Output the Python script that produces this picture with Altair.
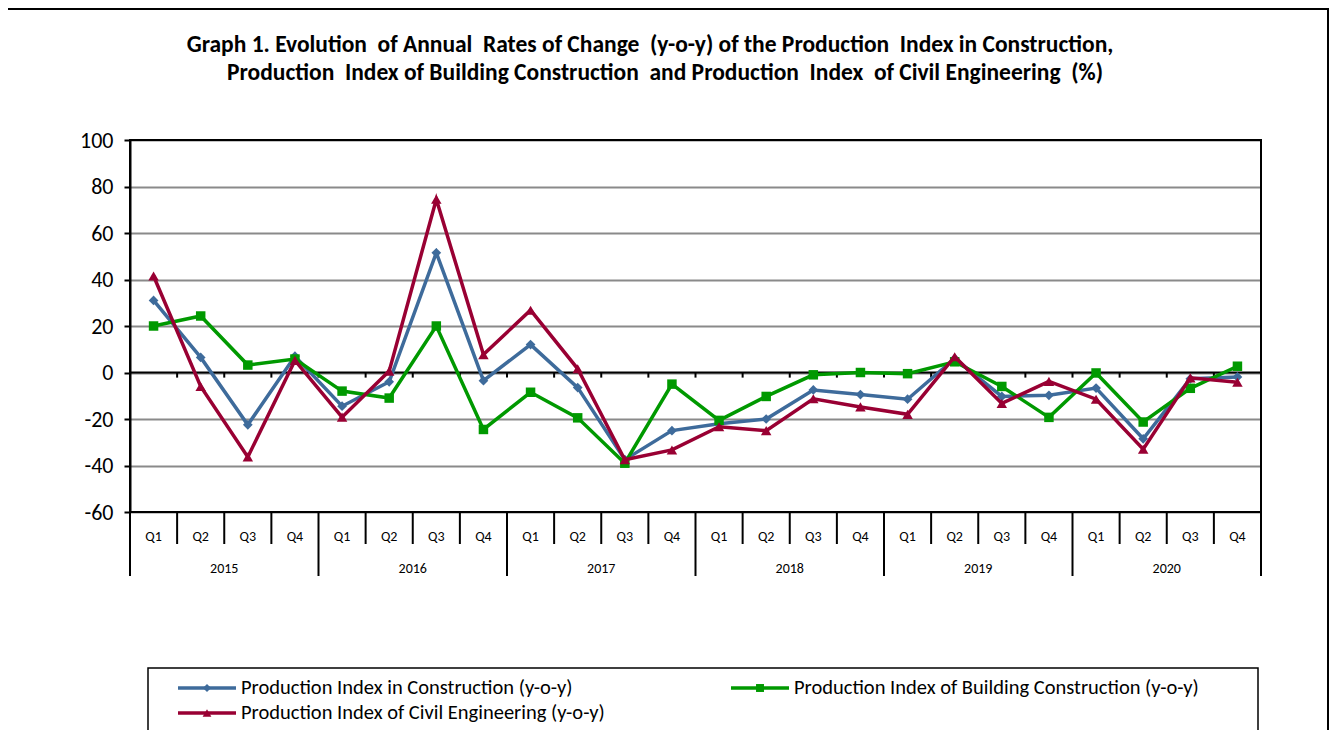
import altair as alt
import pandas as pd

years = ["2015", "2016", "2017", "2018", "2019", "2020"]
quarters = ["Q1", "Q2", "Q3", "Q4"]

names = [
    "Production Index in Construction (y-o-y)",
    "Production Index of Building Construction (y-o-y)",
    "Production Index of Civil Engineering (y-o-y)",
]
colors = ["#3E6B9B", "#009900", "#990033"]
shapes = ["diamond", "square", "triangle-up"]
sizes = [95, 90, 110]

construction = [31, 6.5, -22.5, 7, -14.5, -4, 51.5, -3.5, 12, -6.5, -37.5, -25,
                -22, -20, -7.5, -9.5, -11.5, 6, -10.3, -9.8, -6.7, -28.5, -2.7, -1.9]
building = [20, 24.3, 3.2, 5.8, -8, -11, 20, -24.5, -8.5, -19.5, -39, -5,
            -20.6, -10.3, -1, 0, -0.5, 4.6, -6, -19.3, -0.2, -21.3, -6.8, 2.7]
civil = [41.5, -6, -36.3, 5.2, -19.2, 0.6, 74.5, 7.7, 26.8, 1.6, -37.5, -33.3,
         -23.3, -25, -11.3, -14.8, -18, 6.8, -13.3, -3.8, -11.5, -33, -2.3, -4.2]

y_ticks = [-60, -40, -20, 0, 20, 40, 60, 80, 100]

FONT = "Carlito, Lato, sans-serif"
W, H = 1131, 372
n = len(years) * len(quarters)
SP = "\u00a0"

xscale = alt.Scale(domain=[-0.5, n - 0.5], nice=False, zero=False)
yscale = alt.Scale(domain=[-60, 100], nice=False, zero=False)
yaxis = alt.Axis(values=y_ticks, grid=True, gridColor="#8A8A8A", gridWidth=1.8,
                 domainColor="black", domainWidth=2, tickColor="black",
                 tickWidth=2, tickSize=6, labelFont=FONT, labelFontSize=22,
                 labelColor="black", labelPadding=11, title=None,
                 labelExpr="'' + datum.value")

series_vals = [construction, building, civil]
layers = []

# y axis / grid carrier
layers.append(alt.Chart(pd.DataFrame({"v": y_ticks})).mark_point(opacity=0)
              .encode(y=alt.Y("v:Q", scale=yscale, axis=yaxis)))

# zero line
layers.append(alt.Chart(pd.DataFrame({"v": [0]})).mark_rule(color="black", strokeWidth=2)
              .encode(y=alt.Y("v:Q", scale=yscale, axis=yaxis)))

# ticks on zero line
bounds = [i - 0.5 for i in range(1, n)]
layers.append(alt.Chart(pd.DataFrame({"b": bounds, "v": [0] * len(bounds), "v2": [-2.2] * len(bounds)}))
              .mark_rule(color="black", strokeWidth=2)
              .encode(x=alt.X("b:Q", scale=xscale, axis=None),
                      y=alt.Y("v:Q", scale=yscale, axis=yaxis), y2="v2:Q"))

# category table separators
qb = [i - 0.5 for i in range(1, n) if i % 4 != 0]
yb = [i - 0.5 for i in range(0, n + 1, 4)]
layers.append(alt.Chart(pd.DataFrame({"b": qb})).mark_rule(color="black", strokeWidth=2)
              .encode(x=alt.X("b:Q", scale=xscale, axis=None), y=alt.value(H), y2=alt.value(H + 32)))
layers.append(alt.Chart(pd.DataFrame({"b": yb})).mark_rule(color="black", strokeWidth=2)
              .encode(x=alt.X("b:Q", scale=xscale, axis=None), y=alt.value(H), y2=alt.value(H + 64)))

# quarter labels
qdf = pd.DataFrame({"idx": list(range(n)), "q": [quarters[i % 4] for i in range(n)]})
layers.append(alt.Chart(qdf).mark_text(font=FONT, fontSize=14, color="black", baseline="middle")
              .encode(x=alt.X("idx:Q", scale=xscale, axis=None), y=alt.value(H + 25), text="q:N"))
ydf = pd.DataFrame({"yc": [i * 4 + 1.5 for i in range(len(years))], "yr": years})
layers.append(alt.Chart(ydf).mark_text(font=FONT, fontSize=14, color="black", baseline="middle")
              .encode(x=alt.X("yc:Q", scale=xscale, axis=None), y=alt.value(H + 57), text="yr:N"))

# series
for name, vals, col, shp, sz in zip(names, series_vals, colors, shapes, sizes):
    df = pd.DataFrame({"idx": list(range(n)), "value": vals})
    enc = dict(x=alt.X("idx:Q", scale=xscale, axis=None),
               y=alt.Y("value:Q", scale=yscale, axis=yaxis))
    layers.append(alt.Chart(df).mark_line(color=col, strokeWidth=3.5).encode(**enc))
    layers.append(alt.Chart(df).mark_point(color=col, shape=shp, size=sz, filled=True, opacity=1)
                  .encode(**enc))

one = pd.DataFrame({"a": [0]})

# plot border
layers.append(alt.Chart(one).mark_rect(filled=False, stroke="black", strokeWidth=2)
              .encode(x=alt.value(0), x2=alt.value(W), y=alt.value(0), y2=alt.value(H)))

# outer border
layers.append(alt.Chart(one).mark_rect(filled=False, stroke="black", strokeWidth=2)
              .encode(x=alt.value(-124), x2=alt.value(1198), y=alt.value(-131), y2=alt.value(700)))

# title
title1 = ("Graph 1. Evolution" + SP + " of Annual" + SP + " Rates of Change" + SP + " (y-o-y) of the Production"
          + SP + " Index in Construction,")
title2 = ("Production" + SP + " Index of Building Construction" + SP + " and Production" + SP + " Index" + SP
          + " of Civil Engineering" + SP + " (%)")
layers.append(alt.Chart(one).mark_text(text=title1, font=FONT, fontSize=23.5, fontWeight="bold",
                                       color="black", align="center", baseline="middle")
              .encode(x=alt.value(520), y=alt.value(-95)))
layers.append(alt.Chart(one).mark_text(text=title2, font=FONT, fontSize=23.5, fontWeight="bold",
                                       color="black", align="center", baseline="middle")
              .encode(x=alt.value(535), y=alt.value(-67)))

# legend
layers.append(alt.Chart(one).mark_rect(filled=False, stroke="black", strokeWidth=1.5)
              .encode(x=alt.value(18), x2=alt.value(1128), y=alt.value(528), y2=alt.value(700)))
leg_pos = [(48, 548), (601, 548), (48, 573)]
for name, col, shp, sz, (lx, ly) in zip(names, colors, shapes, sizes, leg_pos):
    layers.append(alt.Chart(one).mark_rule(color=col, strokeWidth=3.5)
                  .encode(x=alt.value(lx), x2=alt.value(lx + 58), y=alt.value(ly)))
    layers.append(alt.Chart(one).mark_point(color=col, shape=shp, size=sz * 0.7, filled=True, opacity=1)
                  .encode(x=alt.value(lx + 29), y=alt.value(ly)))
    layers.append(alt.Chart(one).mark_text(text=name, font=FONT, fontSize=20.5, color="black",
                                           align="left", baseline="middle")
                  .encode(x=alt.value(lx + 63), y=alt.value(ly)))

chart = alt.layer(*layers).properties(
    width=W, height=H,
    autosize=alt.AutoSizeParams(type="none"),
    padding={"left": 122, "top": 132, "right": 69, "bottom": 218},
).configure_view(stroke="transparent")

chart.save("out.html", embed_options={"renderer": "svg", "actions": False})
